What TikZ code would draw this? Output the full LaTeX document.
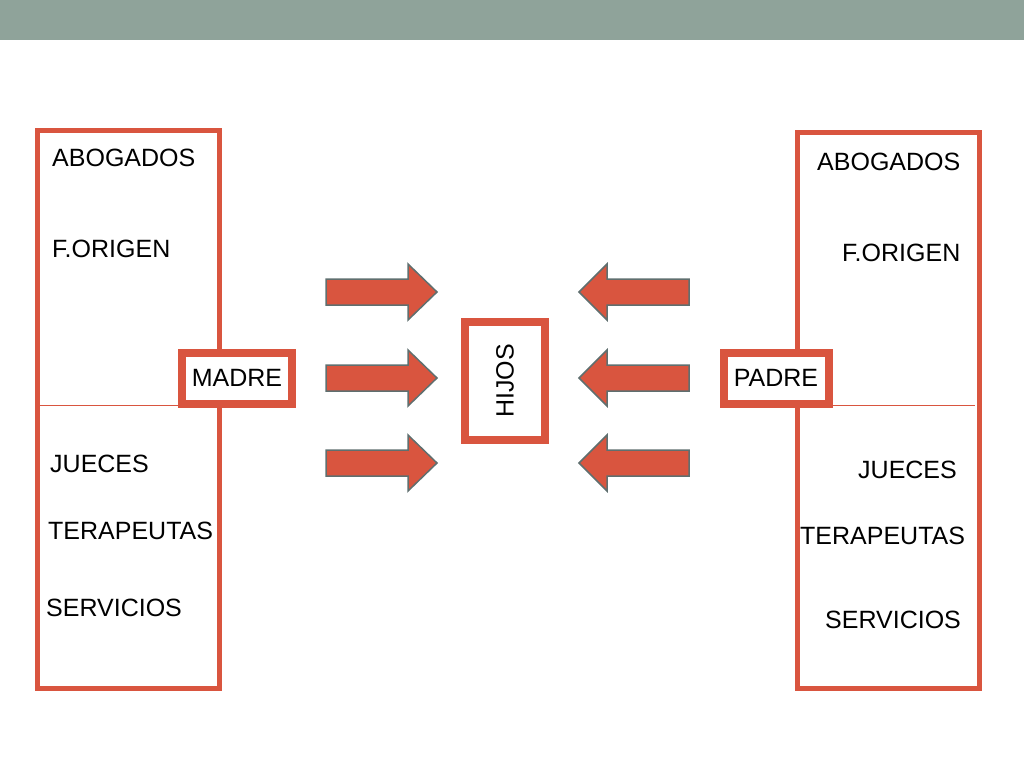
\documentclass[tikz,border=0pt]{standalone}
\usepackage{fontspec}
\setmainfont{Liberation Sans}
\definecolor{rd}{HTML}{D9553F}
\definecolor{band}{HTML}{8FA39A}
\definecolor{edge}{HTML}{5F6F6F}
\begin{document}
\begin{tikzpicture}[x=1pt,y=-1pt,
 frame/.style={draw=rd,line width=5pt},
 tag/.style={draw=rd,line width=8pt,fill=white,font=\fontsize{25}{28}\selectfont,inner sep=0pt},
 lbl/.style={anchor=west,font=\fontsize{25}{28}\selectfont,inner sep=0pt},
 arr/.style={fill=rd,draw=edge,line width=1.5pt}]
\useasboundingbox (0,0) rectangle (1024,768);
\fill[band] (0,0) rectangle (1024,40);
\draw[frame] (37,130) rectangle (219,688);
\draw[frame] (797,132) rectangle (979,688);
\draw[rd,line width=1pt] (40,405) -- (219,405);
\draw[rd,line width=1pt] (797,405) -- (975,405);
\node[tag,minimum width=110pt,minimum height=51pt] (madre) at (237,378) {MADRE};
\node[tag,minimum width=105pt,minimum height=51pt] (padre) at (776,378) {PADRE};
\node[tag,minimum width=80pt,minimum height=118pt] (hijos) at (505,381) {\rotatebox{90}{HIJOS}};
\foreach \y in {292,378,463}{
 \draw[arr] (326,\y-13) -- (408,\y-13) -- (408,\y-28) -- (437,\y) -- (408,\y+28) -- (408,\y+13) -- (326,\y+13) -- cycle;
 \draw[arr] (689,\y-13) -- (607,\y-13) -- (607,\y-28) -- (579,\y) -- (607,\y+28) -- (607,\y+13) -- (689,\y+13) -- cycle;
}
\node[lbl] (a1) at (52,158) {ABOGADOS};
\node[lbl] (f1) at (52,249) {F.ORIGEN};
\node[lbl] (j1) at (50,464) {JUECES};
\node[lbl] (t1) at (48,531) {TERAPEUTAS};
\node[lbl] (s1) at (46,608) {SERVICIOS};
\node[lbl] (a2) at (817,162) {ABOGADOS};
\node[lbl] (f2) at (842,253) {F.ORIGEN};
\node[lbl] (j2) at (858,470) {JUECES};
\node[lbl] (t2) at (800,536) {TERAPEUTAS};
\node[lbl] (s2) at (825,620) {SERVICIOS};
\end{tikzpicture}
\end{document}
